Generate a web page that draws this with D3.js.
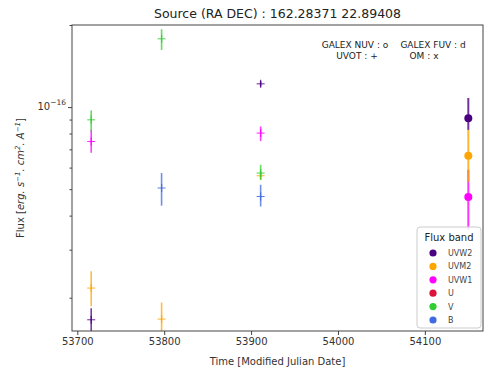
<!DOCTYPE html>
<html><head><meta charset="utf-8">
<script src="https://cdn.jsdelivr.net/npm/d3@7"></script>
<style>body{margin:0;background:#fff}svg{display:block;font-family:"DejaVu Sans",sans-serif}</style>
</head><body><svg id="c" width="487" height="374"></svg>
<script>
const bands = ["UVW2","UVM2","UVW1","U","V","B"];
const bandColors = ["#4b0082","#ffa500","#ff00ff","#dc143c","#32cd32","#4169e1"];
// UVOT observations '+': [band, mjd, flux, low, high]
const uvotBand = ["UVW2","UVW2","UVM2","UVM2","UVM2","UVW1","UVW1","V","V","V","B","B"];
const uvotMjd  = [53716,53911,53716,53797,53911,53716,53911,53716,53797,53911,53797,53911];
const uvotFlux = [1.66e-17,1.217e-16,2.17e-17,1.67e-17,5.6e-17,7.48e-17,8.03e-17,8.98e-17,1.78e-16,5.73e-17,5.05e-17,4.70e-17];
const uvotLow  = [1.50e-17,1.19e-16,1.86e-17,1.45e-17,5.45e-17,6.8e-17,7.5e-17,8.14e-17,1.62e-16,5.4e-17,4.35e-17,4.32e-17];
const uvotHigh = [1.83e-17,1.245e-16,2.5e-17,1.92e-17,5.8e-17,8.25e-17,8.49e-17,9.72e-17,1.93e-16,6.14e-17,5.73e-17,5.19e-17];
// circle markers 'o'
const circBand = ["UVW1","UVM2","UVW2"];
const circMjd  = [54150,54150,54150];
const circFlux = [4.68e-17,6.63e-17,9.11e-17];
const circLow  = [3.54e-17,5.32e-17,8.25e-17];
const circHigh = [5.89e-17,8.25e-17,1.08e-16];
const xTicks = [53700,53800,53900,54000,54100];
const yMajor = [1e-16];
const yMinor = [2e-17,3e-17,4e-17,5e-17,6e-17,7e-17,8e-17,9e-17,2e-16];

const L=72,R=483,T=25,B=331;
const svg = d3.select("#c");
const x = d3.scaleLinear().domain([53693.9,54166.9]).range([L,R]);
const y = d3.scaleLog().domain([1.51e-17,2.0e-16]).range([B,T]);
const col = d3.scaleOrdinal().domain(bands).range(bandColors);

svg.append("clipPath").attr("id","pc").append("rect").attr("x",L).attr("y",T).attr("width",R-L).attr("height",B-T);
const g = svg.append("g").attr("clip-path","url(#pc)");

// x axis
const xa = svg.append("g").attr("transform",`translate(0,${B})`)
  .call(d3.axisBottom(x).tickValues(xTicks).tickFormat(d3.format("d")).tickSize(4).tickPadding(3));
xa.select(".domain").remove();
xa.selectAll("text").attr("font-size",10).attr("fill","#333").attr("font-family","DejaVu Sans");
xa.selectAll("line").attr("stroke","#444");
// y axis
const ya = svg.append("g").attr("transform",`translate(${L},0)`)
  .call(d3.axisLeft(y).tickValues(yMajor).tickFormat("").tickSize(4));
ya.select(".domain").remove();
ya.selectAll("line").attr("stroke","#444");
const ym = svg.append("g").attr("transform",`translate(${L},0)`)
  .call(d3.axisLeft(y).tickValues(yMinor.filter(v=>v<=2e-16 && v>=1.51e-17)).tickFormat("").tickSize(2.5));
ym.select(".domain").remove();
ym.selectAll("line").attr("stroke","#444");
yMajor.forEach(v=>{
  const t = svg.append("text").attr("x",L-6).attr("y",y(v)+3).attr("text-anchor","end")
    .attr("font-size",10).attr("fill","#333");
  t.append("tspan").text("10");
  t.append("tspan").attr("dy",-5).attr("font-size",7.5).text("\u221216");
});

svg.append("rect").attr("x",L).attr("y",T).attr("width",R-L).attr("height",B-T)
  .attr("fill","none").attr("stroke","#444").attr("stroke-width",1);

// UVOT points
uvotMjd.forEach((m,i)=>{
  const c = col(uvotBand[i]);
  const cx = x(m), cy = y(uvotFlux[i]);
  g.append("line").attr("x1",cx).attr("x2",cx).attr("y1",y(uvotLow[i])).attr("y2",y(uvotHigh[i]))
    .attr("stroke",c).attr("stroke-width",1.6).attr("stroke-opacity",0.75);
  g.append("line").attr("x1",cx-4).attr("x2",cx+4).attr("y1",cy).attr("y2",cy)
    .attr("stroke",c).attr("stroke-width",1).attr("stroke-opacity",0.85);
  g.append("line").attr("x1",cx).attr("x2",cx).attr("y1",cy-4).attr("y2",cy+4)
    .attr("stroke",c).attr("stroke-width",1.2).attr("stroke-opacity",0.85);
});
// circle points
circMjd.forEach((m,i)=>{
  const c = col(circBand[i]);
  const cx = x(m), cy = y(circFlux[i]);
  g.append("line").attr("x1",cx).attr("x2",cx).attr("y1",y(circLow[i])).attr("y2",y(circHigh[i]))
    .attr("stroke",c).attr("stroke-width",2).attr("stroke-opacity",0.8);
  g.append("circle").attr("cx",cx).attr("cy",cy).attr("r",4).attr("fill",c);
});

// title & labels
svg.append("text").attr("x",(L+R)/2).attr("y",18).attr("text-anchor","middle")
  .attr("font-size",12.5).attr("fill","#222").text("Source (RA DEC) : 162.28371 22.89408");
svg.append("text").attr("x",(L+R)/2).attr("y",365).attr("text-anchor","middle")
  .attr("font-size",10).attr("fill","#333").text("Time [Modified Julian Date]");
const yl = svg.append("text").attr("transform",`translate(24,${(T+B)/2}) rotate(-90)`)
  .attr("text-anchor","middle").attr("font-size",10).attr("fill","#333");
yl.append("tspan").text("Flux [");
yl.append("tspan").attr("font-style","italic").text("erg. s");
yl.append("tspan").attr("font-style","italic").attr("dy",-4).attr("font-size",7).text("\u22121");
yl.append("tspan").attr("font-style","italic").attr("dy",4).text(". cm");
yl.append("tspan").attr("font-style","italic").attr("dy",-4).attr("font-size",7).text("2");
yl.append("tspan").attr("font-style","italic").attr("dy",4).text(". A");
yl.append("tspan").attr("font-style","italic").attr("dy",-4).attr("font-size",7).text("\u22121");
yl.append("tspan").attr("dy",4).text("]");

// annotation
const ann = [["GALEX NUV : o",355,48],["GALEX FUV : d",433,48],["UVOT : +",357,59],["OM : x",424,59]];
ann.forEach(a=>svg.append("text").attr("x",a[1]).attr("y",a[2]).attr("text-anchor","middle")
  .attr("font-size",9).attr("fill","#222").text(a[0]));

// legend
const lg = svg.append("g");
lg.append("rect").attr("x",417).attr("y",227).attr("width",64).attr("height",101).attr("rx",3)
  .attr("fill","#fff").attr("fill-opacity",0.85).attr("stroke","#ccc");
lg.append("text").attr("x",449).attr("y",241).attr("text-anchor","middle").attr("font-size",10).attr("fill","#222").text("Flux band");
bands.forEach((b,i)=>{
  const yy = 253 + i*13.4;
  lg.append("circle").attr("cx",433).attr("cy",yy).attr("r",3.6).attr("fill",col(b));
  lg.append("text").attr("x",448).attr("y",yy+3).attr("font-size",8).attr("fill","#444").text(b);
});
</script></body></html>
